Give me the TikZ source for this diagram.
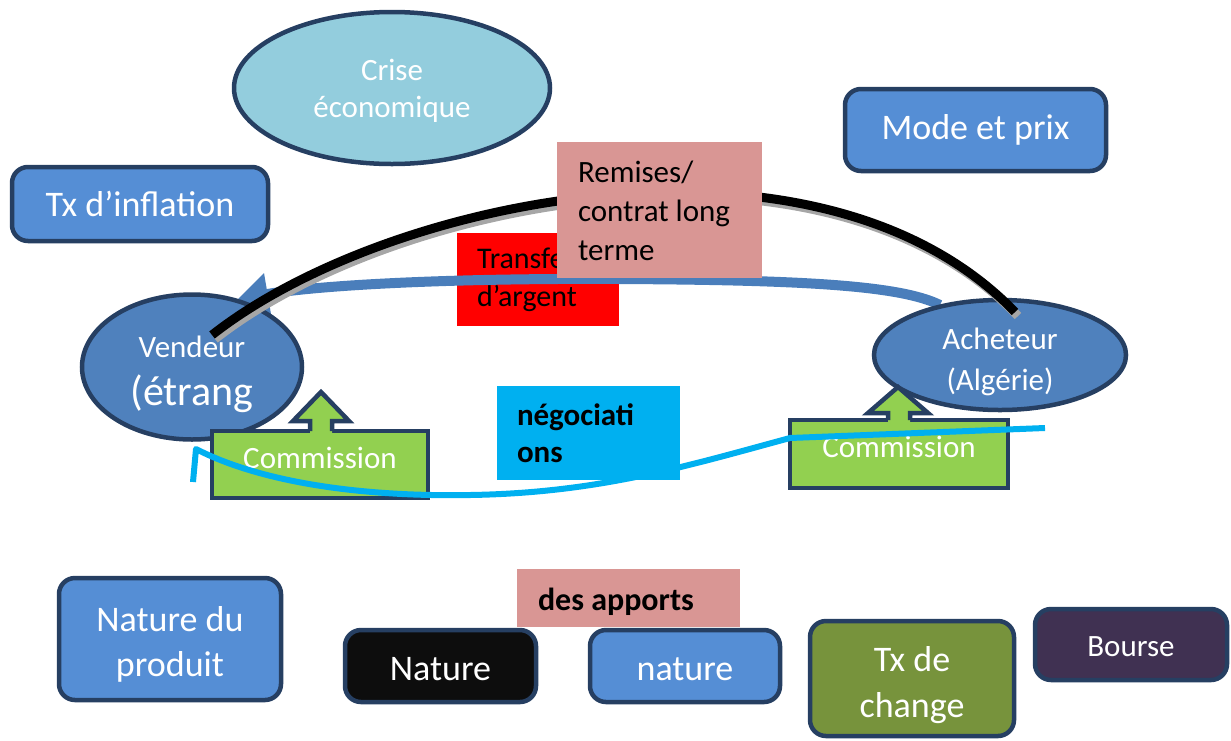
\documentclass[tikz,border=0pt]{standalone}
\usepackage{fontspec}
\setmainfont{Carlito}
\usetikzlibrary{shapes.geometric,arrows.meta}
\definecolor{bord}{HTML}{263F62}
\definecolor{boxblue}{HTML}{558ED5}
\definecolor{ellblue}{HTML}{4F81BD}
\definecolor{crisec}{HTML}{93CDDD}
\definecolor{pinkc}{HTML}{D99694}
\definecolor{cyanc}{HTML}{00B0F0}
\definecolor{greenc}{HTML}{92D050}
\definecolor{olivec}{HTML}{77933C}
\definecolor{purplec}{HTML}{403152}
\definecolor{blackc}{HTML}{0D0D0D}
\definecolor{arrowblue}{HTML}{4A7EBB}
\begin{document}
\begin{tikzpicture}[x=1pt,y=-1pt,
  rbox/.style={draw=bord, line width=4.5pt, rounded corners=16pt, text=white, align=center, inner sep=0pt},
  ell/.style={ellipse, draw=bord, line width=4.5pt, text=white, align=center, inner sep=0pt},
  flat/.style={inner sep=0pt, text=black},
  wtext/.style={inner sep=0pt, text=white, align=center},
  f31/.style={font=\fontsize{31}{38}\selectfont},
  f36/.style={font=\fontsize{36}{45}\selectfont},
  commbox/.style={draw=bord, line width=4.5pt, fill=greenc, text=white, inner sep=0pt,
     font=\fontsize{31}{38}\selectfont, text height=22pt, text depth=15pt},
  commarrow/.style={draw=bord, line width=4.5pt, line join=miter},
  blkline/.style={line width=9pt, black},
  shadline/.style={line width=9pt, black!35},
  bluearrow/.style={line width=10pt, arrowblue, -{Triangle[width=40pt,length=30pt]}},
  cyanline/.style={line width=6pt, cyanc, line join=round}
]
\useasboundingbox (0,0) rectangle (1231,740);

% top elements
\node[ell, fill=crisec, minimum width=316pt, minimum height=152pt] (crise) at (392,88) {};
\node[wtext, font=\fontsize{31}{37}\selectfont] (criset) at ([yshift=-3pt]crise.center) {Crise\\économique};
\node[rbox, fill=boxblue, minimum width=256pt, minimum height=74pt, f36] (tx) at (140,204) {Tx d’inflation};
\node[rbox, fill=boxblue, minimum width=261pt, minimum height=82pt, f36] (mode) at (975.5,130) {Mode et prix};

% transfert
\node[flat, fill=red, minimum width=162pt, minimum height=93pt, text width=122pt, align=left,
      inner xsep=20pt, font=\fontsize{30}{38}\selectfont] (transf) at (538,279.5) {Transfert\\d’argent};

% blue arrow from Acheteur to Vendeur
\coordinate (blA) at (940,305);
\coordinate (blV) at (238,299);
\draw[bluearrow] (blA) .. controls (900,285) and (800,280) .. (620,279)
                 .. controls (450,278) and (320,285) .. (blV);

% ellipses
\node[ell, fill=ellblue, minimum width=220pt, minimum height=145pt] (vend) at (192,367) {};
\node[wtext, font=\fontsize{31}{48}\selectfont] (vendt) at ([yshift=-7pt]vend.center) {Vendeur\\{\fontsize{42}{48}\selectfont (étrang}};
\node[ell, fill=ellblue, minimum width=252pt, minimum height=110pt] (ach) at (1000,355) {};
\node[wtext, font=\fontsize{31}{41}\selectfont] (acht) at ([yshift=-7pt]ach.center) {Acheteur\\(Algérie)};

% black line with shadow
\coordinate (blkV) at (212,335);
\coordinate (blkA) at (1015,312);
\draw[shadline, transform canvas={shift={(3pt,-4pt)}}] (blkV) .. controls (390,195) and (820,110) .. (blkA);
\draw[blkline] (blkV) .. controls (390,195) and (820,110) .. (blkA);

% remises
\node[flat, fill=pinkc, minimum width=205pt, minimum height=136pt] (rem) at (659.5,210) {};
\node[flat, anchor=west, align=left, font=\fontsize{31}{39}\selectfont] (remt) at ([xshift=21pt,yshift=-1pt]rem.west) {Remises/\\contrat long\\terme};

% negociations
\node[flat, fill=cyanc, minimum width=183pt, minimum height=94pt, text width=143pt, align=left,
      inner xsep=20pt, font=\bfseries\fontsize{31}{37}\selectfont] (nego) at (588.5,433) {négociati\\ons};

% commission boxes
\node[commbox, minimum width=216pt, minimum height=67pt] (comL) at (320,464.5) {Commission};
\fill[greenc] (310,433) -- (310,421) -- (293,421) -- (321,392) -- (349,421) -- (332,421) -- (332,433) -- cycle;
\draw[commarrow] (310,431) -- (310,421) -- (293,421) -- (321,392) -- (349,421) -- (332,421) -- (332,431);

\node[commbox, minimum width=218pt, minimum height=68pt] (comR) at (899,454) {Commission};
\fill[greenc] (888,422) -- (888,413) -- (868,413) -- (898,387) -- (928,413) -- (910,413) -- (910,422) -- cycle;
\draw[commarrow] (888,420) -- (888,413) -- (868,413) -- (898,387) -- (928,413) -- (910,413) -- (910,420);

% cyan negotiation line
\coordinate (cyV) at (193,482);
\coordinate (cyA) at (1045,428);
\draw[cyanline] (cyV) -- (196,449) .. controls (260,482) and (360,497) .. (470,495)
   .. controls (600,493) and (690,465) .. (790,438) -- (cyA);

% bottom
\node[flat, fill=pinkc, minimum width=223pt, minimum height=58pt] (apports) at (628.5,598) {};
\node[flat, anchor=west, font=\bfseries\fontsize{32}{38}\selectfont] (apportst) at ([xshift=21pt,yshift=-4pt]apports.west) {des apports};
\node[rbox, fill=boxblue, minimum width=222pt, minimum height=122pt] (natprod) at (170,639) {};
\node[wtext, f36] (natprodt) at ([yshift=-5pt]natprod.center) {Nature du\\produit};
\node[rbox, fill=blackc, minimum width=191pt, minimum height=72pt] (natA) at (440.5,666) {};
\node[wtext, f36] (natAt) at ([yshift=-3pt]natA.center) {Nature};
\node[rbox, fill=boxblue, minimum width=190pt, minimum height=72pt] (natB) at (685,666) {};
\node[wtext, f36] (natBt) at ([yshift=-3pt]natB.center) {nature};
\node[rbox, fill=olivec, minimum width=204pt, minimum height=115pt] (chg) at (912,678.5) {};
\node[wtext, font=\fontsize{36}{46}\selectfont] (chgt) at ([yshift=-7pt]chg.center) {Tx de\\change};
\node[rbox, fill=purplec, minimum width=192pt, minimum height=71pt] (bourse) at (1131,644.5) {};
\node[wtext, f31] (bourset) at ([yshift=-2pt]bourse.center) {Bourse};
\end{tikzpicture}
\end{document}
